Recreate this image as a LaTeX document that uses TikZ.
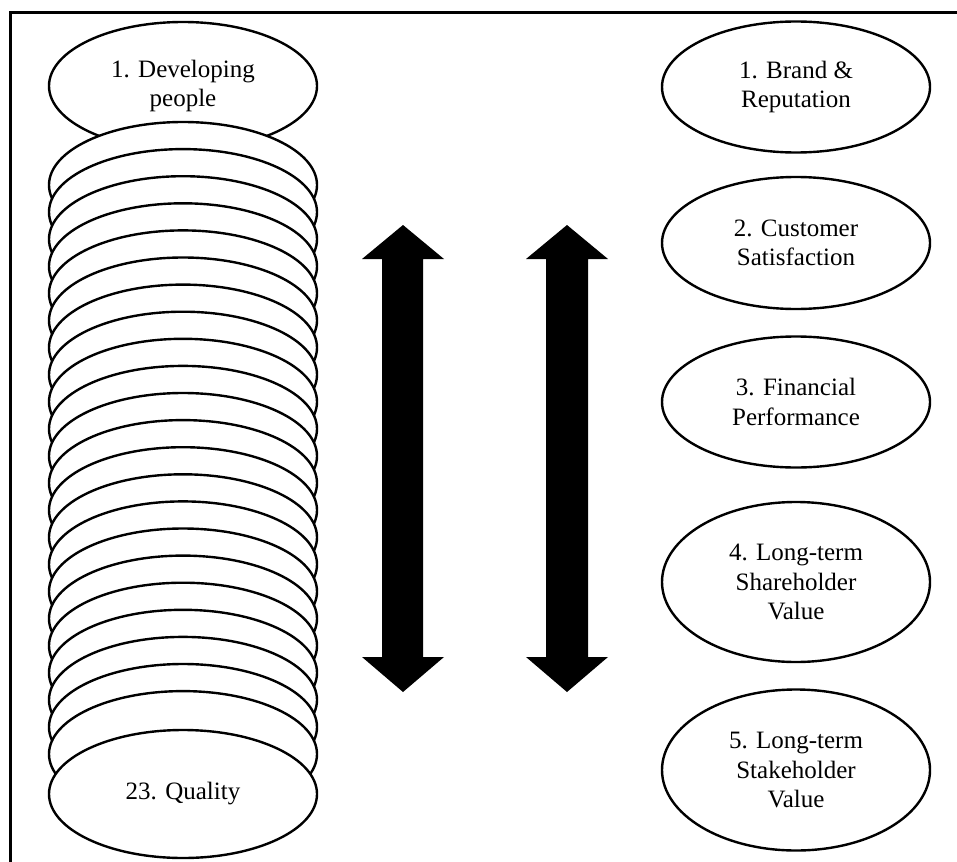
\documentclass[tikz,border=0pt]{standalone}
\usepackage{fontspec}
\setmainfont{Liberation Serif}
\usetikzlibrary{shapes.geometric}
\begin{document}
\begin{tikzpicture}[x=1pt,y=-1pt,
  oval/.style={ellipse, draw=black, line width=2.4pt, fill=white, inner sep=0pt,
    minimum width=#1, align=center, font=\fontsize{25}{29.5}\selectfont},
  oval/.default={268pt},
  big/.style={line width=0pt, fill=black}]
\useasboundingbox (0,0) rectangle (957,861);
% frame
\draw[line width=3pt] (10,870) -- (10,13) -- (970,13);
% left stack
\node[oval, minimum height=128pt] (dev) at (183,86) {1. Developing\\people};
\foreach \i in {1,...,22}{
  \pgfmathsetmacro{\cy}{185+(\i-1)*27.1}
  \node[oval, minimum height=126pt] (stack\i) at (183,\cy) {};
}
\node[oval, minimum height=128pt] (quality) at (183,794) {23. Quality};
% right column
\node[oval, minimum height=131pt] (brand) at (796,87) {1. Brand \&\\Reputation};
\node[oval, minimum height=132pt] (cust) at (796,243) {2. Customer\\Satisfaction};
\node[oval, minimum height=131pt] (fin) at (796,402) {3. Financial\\Performance};
\node[oval, minimum height=160pt] (share) at (796,582) {4. Long-term\\Shareholder\\Value};
\node[oval, minimum height=161pt] (stake) at (796,770) {5. Long-term\\Stakeholder\\Value};
% double arrows
\fill (403,225) -- (444,259) -- (423,259) -- (423,657) -- (444,657) -- (403,692)
  -- (362,657) -- (382,657) -- (382,259) -- (362,259) -- cycle;
\fill (567,225) -- (608,259) -- (588,259) -- (588,657) -- (608,657) -- (567,692)
  -- (526,657) -- (546,657) -- (546,259) -- (526,259) -- cycle;
\end{tikzpicture}
\end{document}
